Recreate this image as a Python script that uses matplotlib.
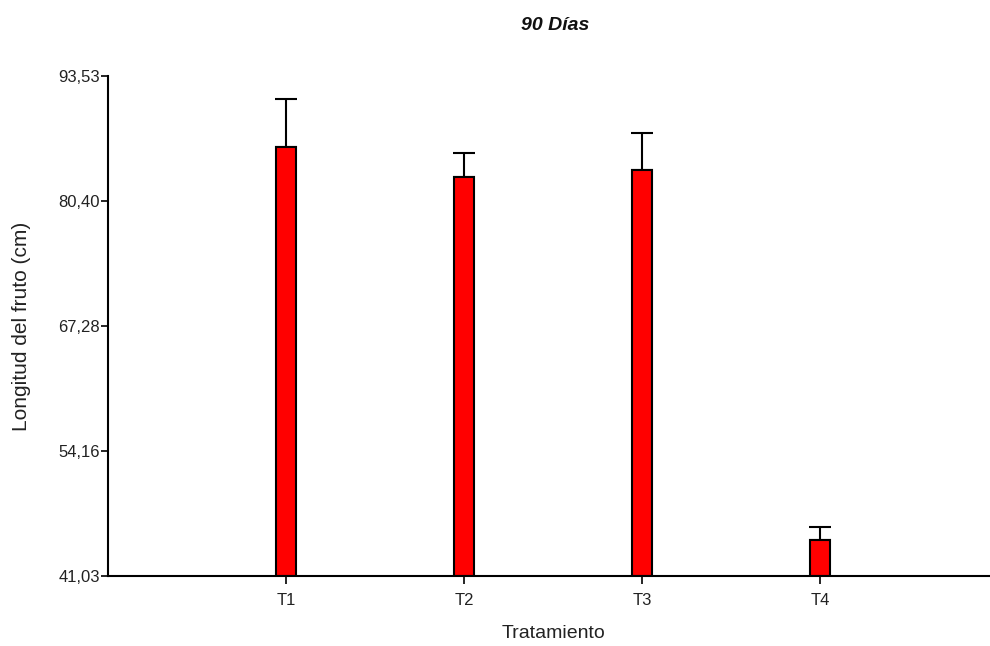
import matplotlib
matplotlib.use("Agg")
import matplotlib.pyplot as plt
import numpy as np

plt.rcParams['font.family'] = ['Liberation Sans', 'DejaVu Sans']

categories = ["T1", "T2", "T3", "T4"]
means = [86.05, 82.88, 83.64, 44.84]
errors = [5.01, 2.58, 3.85, 1.39]
yticks = [41.03, 54.16, 67.28, 80.40, 93.53]
ytick_labels = ["41,03", "54,16", "67,28", "80,40", "93,53"]
title = "90 Días"
xlabel = "Tratamiento"
ylabel = "Longitud del fruto (cm)"

fig = plt.figure(figsize=(9.9, 6.46), dpi=100)
W, H = 990, 646
x0, x1 = 108, 998
ytop, ybot = 75.7, 576.3
ax = fig.add_axes([x0 / W, 1 - ybot / H, (x1 - x0) / W, (ybot - ytop) / H])

x = np.arange(1, len(categories) + 1)
base = yticks[0]
heights = [m - base for m in means]
ax.bar(x, heights, bottom=base, width=0.115, color="#ff0000",
       edgecolor="black", linewidth=1.5, zorder=3)
ax.errorbar(x, means, yerr=[np.zeros(len(errors)), errors], fmt="none",
            ecolor="black", elinewidth=1.5, capsize=8, capthick=1.5, zorder=2)

ax.set_xlim(0, 5)
ax.set_ylim(yticks[0], yticks[-1])
ax.set_xticks(x)
ax.set_xticklabels(categories)
ax.set_yticks(yticks)
ax.set_yticklabels(ytick_labels)

for s in ["top", "right"]:
    ax.spines[s].set_visible(False)
ax.spines["left"].set_linewidth(1.5)
ax.spines["bottom"].set_linewidth(1.5)
ax.spines["bottom"].set_zorder(4)

ax.tick_params(axis="y", length=5, width=1.2, pad=1, labelsize=12, colors="black")
ax.tick_params(axis="x", length=6, width=1.2, pad=6, labelsize=12, colors="black")
for lab in ax.get_xticklabels() + ax.get_yticklabels():
    lab.set_color("#222222")

fig.text(555 / W, 1 - 25 / H, title, ha="center", va="center",
         fontsize=14, fontweight="bold", fontstyle="italic", color="#111111")
fig.text(553 / W, 1 - 633 / H, xlabel, ha="center", va="center",
         fontsize=14, color="#222222")
fig.text(22 / W, 1 - 326 / H, ylabel, ha="center", va="center",
         rotation=90, fontsize=15, color="#222222")

fig.savefig("out.png", dpi=100)
